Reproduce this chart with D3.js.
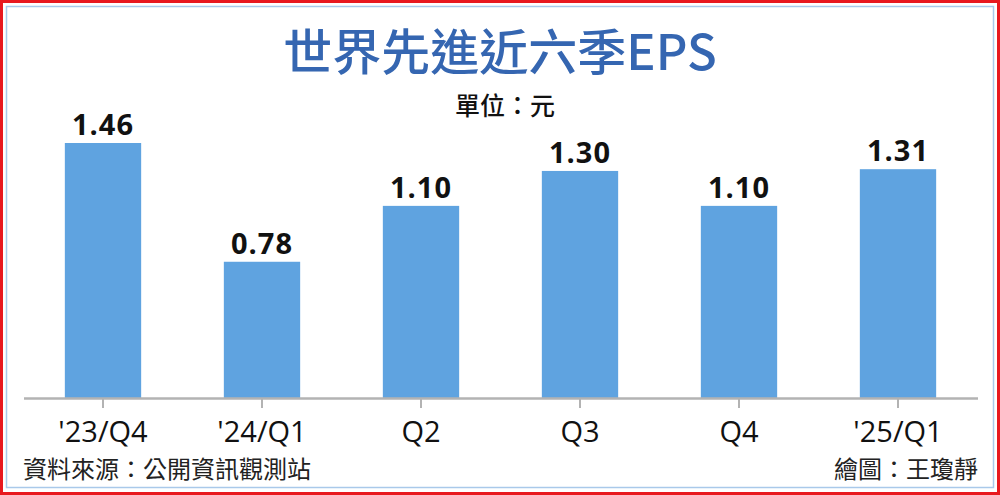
<!DOCTYPE html>
<html><head><meta charset="utf-8">
<script src="https://cdn.jsdelivr.net/npm/d3@7"></script>
<style>html,body{margin:0;padding:0;background:#fff;}svg{display:block;}</style>
</head><body>
<script>
const categories = ["'23/Q4", "'24/Q1", "Q2", "Q3", "Q4", "'25/Q1"];
const eps = [1.46, 0.78, 1.10, 1.30, 1.10, 1.31];
const valueLabels = ["1.46", "0.78", "1.10", "1.30", "1.10", "1.31"];
const titleText = "世界先進近六季EPS";
const unitText = "單位：元";
const sourceText = "資料來源：公開資訊觀測站";
const creditText = "繪圖：王瓊靜";

const W = 1000, H = 495;
const svg = d3.select("body").append("svg").attr("width", W).attr("height", H);
svg.append("rect").attr("x",0).attr("y",0).attr("width",W).attr("height",H).attr("fill","#fff");
svg.append("rect").attr("x",1.5).attr("y",1.5).attr("width",W-3).attr("height",H-3)
  .attr("fill","none").attr("stroke","#e8191f").attr("stroke-width",3);
svg.append("rect").attr("x",6.5).attr("y",6.5).attr("width",W-13).attr("height",H-14)
  .attr("fill","none").attr("stroke","#a9c9ea").attr("stroke-width",1.5);

const cjk = "'Noto Sans CJK TC','Noto Sans CJK SC',sans-serif";
svg.append("text").attr("x",500).attr("y",70).attr("text-anchor","middle")
  .attr("font-family",cjk).attr("font-size",49).attr("font-weight",500)
  .attr("fill","#3566b1").text(titleText);
svg.append("text").attr("x",505).attr("y",115).attr("text-anchor","middle")
  .attr("font-family",cjk).attr("font-size",25).attr("font-weight",500)
  .attr("fill","#111").text(unitText);

const x = d3.scaleBand().domain(categories).range([23.5, 977.5]).paddingInner(0.52).paddingOuter(0.26);
const y = d3.scaleLinear().domain([0, 1.46]).range([398, 143]);

svg.selectAll("rect.bar").data(eps).join("rect").attr("class","bar")
  .attr("x",(d,i)=>x(categories[i])).attr("width",x.bandwidth())
  .attr("y",d=>y(d)).attr("height",d=>y(0)-y(d)).attr("fill","#5fa3e0");

svg.selectAll("text.val").data(eps).join("text").attr("class","val")
  .attr("x",(d,i)=>x(categories[i])+x.bandwidth()/2).attr("y",d=>y(d)-8)
  .attr("text-anchor","middle").attr("font-family","'Open Sans',sans-serif")
  .attr("font-weight",700).attr("font-size",29).attr("fill","#111")
  .attr("letter-spacing",1)
  .text((d,i)=>valueLabels[i]);

const axis = d3.axisBottom(x).tickSize(10).tickSizeOuter(0);
const g = svg.append("g").attr("transform","translate(0,398)").call(axis);
g.select(".domain").attr("stroke","#b3b3b3").attr("stroke-width",2.5);
g.selectAll(".tick line").attr("stroke","#b3b3b3").attr("stroke-width",2);
g.selectAll(".tick text").attr("font-family","'Open Sans',sans-serif").attr("font-size",29)
  .attr("fill","#111").attr("dy",0).attr("y",44);

svg.append("text").attr("x",23).attr("y",478).attr("font-family",cjk).attr("font-size",24)
  .attr("fill","#222").text(sourceText);
svg.append("text").attr("x",978).attr("y",478).attr("text-anchor","end").attr("font-family",cjk)
  .attr("font-size",24).attr("fill","#222").text(creditText);
</script>
</body></html>
